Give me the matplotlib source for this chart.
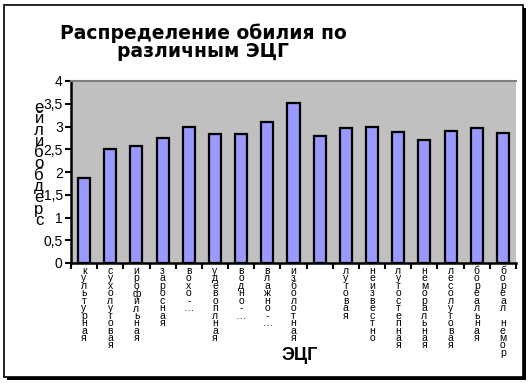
import matplotlib.pyplot as plt
import matplotlib.transforms as mtransforms
from matplotlib.patches import Rectangle

plt.rcParams['font.family'] = ['Liberation Sans', 'DejaVu Sans']

# данные
groups = [
    "культурная", "сухолуговая", "ирофильная", "заросная", "вохо-…",
    "удевоплная", "водно-…", "влажно-…", "изболотная", "",
    "луговая", "неизвестно", "лугостепная", "неморальная", "лесолуговая",
    "бореальная", "бореал немор",
]
obilie = [1.87, 2.51, 2.58, 2.75, 3.0, 2.83, 2.83, 3.1, 3.52, 2.8,
          2.97, 3.0, 2.88, 2.71, 2.91, 2.97, 2.85]
y_ticks = [0, 0.5, 1, 1.5, 2, 2.5, 3, 3.5, 4]
y_tick_labels = ["0", "0,5", "1", "1,5", "2", "2,5", "3", "3,5", "4"]

W, H = 530, 383
fig = plt.figure(figsize=(W / 100, H / 100), dpi=100)
fig.patch.set_facecolor("white")

# рамка диаграммы с тенью
fig.add_artist(Rectangle((7 / W, 1 - 380 / H), 519 / W, 372 / H, transform=fig.transFigure,
                         facecolor="black", edgecolor="none", zorder=-2))
fig.add_artist(Rectangle((4 / W, 1 - 377 / H), 519 / W, 372 / H, transform=fig.transFigure,
                         facecolor="white", edgecolor="black", linewidth=1.2, zorder=-1))

ax = fig.add_axes([71 / W, 1 - 263 / H, 445 / W, 182 / H])
ax.set_zorder(1)
ax.set_facecolor("#C0C0C0")
x = list(range(len(groups)))
ax.bar(x, obilie, width=0.46, color="#9999FF", edgecolor="black", linewidth=1.6, zorder=3)

ax.set_xlim(-0.5, len(groups) - 0.5)
ax.set_ylim(0, 4)
ax.set_yticks(y_ticks)
ax.set_yticklabels(y_tick_labels, fontsize=10)
ax.tick_params(axis="y", direction="out", length=4, width=1.5, pad=2)
ax.set_xticks([i - 0.5 for i in range(len(groups) + 1)])
ax.set_xticklabels([])
ax.tick_params(axis="x", direction="out", length=4, width=1.5)

ax.spines["top"].set_color("#808080")
ax.spines["top"].set_linewidth(1.5)
ax.spines["right"].set_visible(False)
ax.spines["left"].set_linewidth(1.8)
ax.spines["bottom"].set_linewidth(1.8)

# подписи категорий вертикальным столбиком
trans = mtransforms.blended_transform_factory(ax.transData, fig.transFigure)
for i, name in enumerate(groups):
    if not name:
        continue
    letters = list(name.replace("…", ""))
    if "…" in name:
        letters.append("…")
    ax.text(i, 1 - 266 / H, "\n".join(letters),
            transform=trans, ha="center", va="top", fontsize=7.5, linespacing=0.68,
            multialignment="center", clip_on=False)

# подпись оси Y столбиком
fig.text(39 / W, 1 - 100 / H, "\n".join("ейлибобдерс"), ha="center", va="top",
         fontsize=12, linespacing=0.69)

fig.text(203 / W, 1 - 42 / H, "Распределение обилия по\nразличным ЭЦГ", ha="center",
         va="center", fontsize=13.5, fontweight="bold", linespacing=0.9,
         family="DejaVu Sans")
fig.text(300 / W, 1 - 355 / H, "ЭЦГ", ha="center", va="center", fontsize=13,
         fontweight="bold")

fig.savefig("out.png", dpi=100)
